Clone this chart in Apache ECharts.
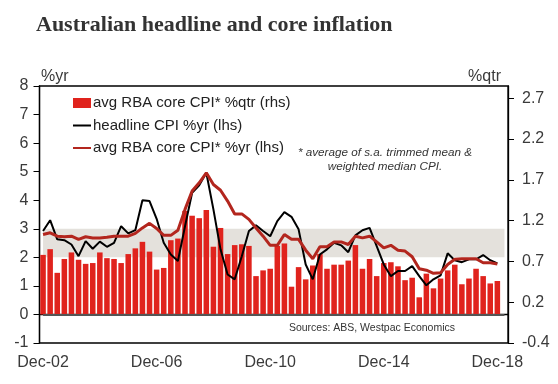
<!DOCTYPE html>
<html>
<head>
<meta charset="utf-8">
<script src="https://cdn.jsdelivr.net/npm/echarts@6/dist/echarts.min.js"></script>
<style>html,body{margin:0;padding:0;background:#fff}#c{width:558px;height:384px}</style>
</head>
<body>
<div id="c"></div>
<script>
// Quarterly categories, Dec-02 .. Dec-18 (+ one empty slot at the end of the axis)
var categories = [
 'Dec-02','Mar-03','Jun-03','Sep-03','Dec-03','Mar-04','Jun-04','Sep-04',
 'Dec-04','Mar-05','Jun-05','Sep-05','Dec-05','Mar-06','Jun-06','Sep-06',
 'Dec-06','Mar-07','Jun-07','Sep-07','Dec-07','Mar-08','Jun-08','Sep-08',
 'Dec-08','Mar-09','Jun-09','Sep-09','Dec-09','Mar-10','Jun-10','Sep-10',
 'Dec-10','Mar-11','Jun-11','Sep-11','Dec-11','Mar-12','Jun-12','Sep-12',
 'Dec-12','Mar-13','Jun-13','Sep-13','Dec-13','Mar-14','Jun-14','Sep-14',
 'Dec-14','Mar-15','Jun-15','Sep-15','Dec-15','Mar-16','Jun-16','Sep-16',
 'Dec-16','Mar-17','Jun-17','Sep-17','Dec-17','Mar-18','Jun-18','Sep-18',
 'Dec-18',' '
];
// avg RBA core CPI %qtr (rhs)
var coreQtr = [
 0.73,0.80,0.51,0.68,0.76,0.67,0.62,0.63,0.76,0.69,0.68,0.63,0.74,0.81,0.89,0.77,
 0.55,0.57,0.91,0.93,1.27,1.21,1.18,1.28,0.83,1.06,0.74,0.85,0.86,0.84,0.47,0.54,
 0.56,0.84,0.87,0.34,0.58,0.43,0.60,0.74,0.56,0.61,0.61,0.66,0.85,0.56,0.68,0.47,
 0.63,0.64,0.59,0.42,0.45,0.21,0.50,0.32,0.44,0.54,0.61,0.37,0.44,0.56,0.47,0.38,
 0.41
];
// headline CPI %yr (lhs)
var headline = [
 2.92,3.30,2.63,2.60,2.45,2.04,2.57,2.30,2.55,2.37,2.51,3.09,2.84,2.95,4.00,3.97,
 3.35,2.51,2.10,1.87,3.09,4.26,4.52,4.96,3.68,2.28,1.40,1.23,2.04,2.92,3.12,2.92,
 2.74,3.27,3.58,3.42,2.98,1.75,1.23,2.10,2.28,2.51,2.42,2.18,2.77,2.95,3.03,2.39,
 1.75,1.34,1.52,1.52,1.69,1.34,1.02,1.23,1.37,2.14,1.90,1.83,1.93,1.93,2.08,1.90,
 1.79
];
// avg RBA core CPI %yr (lhs)
var coreYr = [
 2.80,2.86,2.74,2.72,2.74,2.63,2.72,2.68,2.68,2.70,2.74,2.74,2.74,2.84,3.03,3.19,
 3.01,2.77,2.77,2.95,3.68,4.32,4.61,4.96,4.55,4.35,3.97,3.52,3.52,3.33,3.03,2.74,
 2.42,2.42,2.80,2.63,2.63,2.25,1.95,2.37,2.37,2.54,2.54,2.45,2.74,2.68,2.74,2.54,
 2.33,2.42,2.25,2.22,2.02,1.60,1.55,1.44,1.46,1.75,1.93,1.95,1.95,1.95,1.81,1.81,
 1.77
];
var leftTicks = ['-1','0','1','2','3','4','5','6','7','8'];
var rightTicks = ['-0.4','0.2','0.7','1.2','1.7','2.2','2.7'];
var band = [2, 3];

var chart = echarts.init(document.getElementById('c'), null, {renderer: 'canvas'});
var axisFont = {fontFamily: 'Liberation Sans, Arial', fontSize: 16, color: '#3a3a3a'};
var lastIdx = categories.length - 1;

chart.setOption({
  animation: false,
  backgroundColor: '#fff',
  grid: {left: 39.5, right: 50, top: 86, bottom: 41, show: true, borderColor: '#000', borderWidth: 1.3, containLabel: false},
  legend: {
    orient: 'vertical', left: 67, top: 89, itemWidth: 18, itemHeight: 10, itemGap: 4.5,
    selectedMode: false,
    textStyle: {fontFamily: 'Liberation Sans, Arial', fontSize: 15, color: '#222', lineHeight: 18, padding: [0,0,0,-3]},
    data: [
      {name: 'avg RBA core CPI* %qtr (rhs)', icon: 'rect'},
      {name: 'headline CPI %yr (lhs)', itemStyle: {opacity: 0}},
      {name: 'avg RBA core CPI* %yr (lhs)', itemStyle: {opacity: 0}}
    ]
  },
  graphic: [
    {type: 'text', left: 36, top: 14, style: {text: 'Australian headline and core inflation', font: 'bold 22px "Liberation Serif", "Times New Roman", serif', fill: '#333'}},
    {type: 'text', left: 41, top: 69, style: {text: '%yr', font: '16px "Liberation Sans", Arial', fill: '#3a3a3a'}},
    {type: 'text', right: 57, top: 69, style: {text: '%qtr', font: '16px "Liberation Sans", Arial', fill: '#3a3a3a'}},
    {type: 'text', x: 385, y: 153, style: {text: '* average of s.a. trimmed mean &', font: 'italic 11.7px "Liberation Sans", Arial', fill: '#333', align: 'center', verticalAlign: 'middle'}},
    {type: 'text', x: 385, y: 167, style: {text: 'weighted median CPI.', font: 'italic 11.7px "Liberation Sans", Arial', fill: '#333', align: 'center', verticalAlign: 'middle'}},
    {type: 'text', x: 455, y: 328, style: {text: 'Sources: ABS, Westpac Economics', font: '10.5px "Liberation Sans", Arial', fill: '#333', align: 'right', verticalAlign: 'middle'}}
  ],
  xAxis: {
    type: 'category', data: categories, boundaryGap: true,
    axisLine: {lineStyle: {color: '#000', width: 1.3}},
    axisTick: {interval: 15, length: 5, lineStyle: {color: '#000', width: 1}},
    axisLabel: Object.assign({interval: 15, margin: 12}, axisFont),
    splitLine: {show: false}
  },
  yAxis: [
    {type: 'value', min: -1, max: 8, interval: 1, position: 'left',
     axisLine: {show: true, lineStyle: {color: '#000', width: 1.3}},
     axisTick: {show: true, length: 6, lineStyle: {color: '#000'}},
     axisLabel: Object.assign({margin: 11, formatter: function (v) { var i = Math.round(v + 1); return leftTicks[i] || ''; }}, axisFont),
     splitLine: {show: false}},
    {type: 'value', min: -0.35, max: 2.8, interval: 0.5, position: 'right',
     axisLine: {show: true, lineStyle: {color: '#000', width: 1.3}},
     axisTick: {show: true, length: 6, lineStyle: {color: '#000'}},
     axisLabel: Object.assign({margin: 14, showMaxLabel: false, formatter: function (v) {
        var k = (v + 0.35) / 0.5; var i = Math.round(k);
        if (Math.abs(k - i) > 0.01) return '';
        return rightTicks[i] || '';
     }}, axisFont),
     splitLine: {show: false}}
  ],
  series: [
    {type: 'line', name: 'band', data: [], z: 1, silent: true,
     markArea: {silent: true, itemStyle: {color: '#e4e1dc'}, data: [[{coord: [0, band[1]]}, {coord: [lastIdx, band[0]]}]]}},
    {type: 'bar', name: 'avg RBA core CPI* %qtr (rhs)', yAxisIndex: 1, data: coreQtr, z: 2,
     barCategoryGap: '22%', itemStyle: {color: '#e0231d'}},
    {type: 'line', name: 'zero', data: [], z: 3, silent: true,
     markLine: {silent: true, symbol: 'none', label: {show: false}, lineStyle: {color: '#555', width: 2, type: 'solid'},
       data: [[{coord: [0, 0]}, {coord: [lastIdx, 0]}]]}},
    {type: 'line', name: 'headline CPI %yr (lhs)', yAxisIndex: 0, data: headline, z: 4,
     symbol: 'none', showSymbol: false, lineStyle: {color: '#000', width: 2}, itemStyle: {color: '#000'}},
    {type: 'line', name: 'avg RBA core CPI* %yr (lhs)', yAxisIndex: 0, data: coreYr, z: 5,
     symbol: 'none', showSymbol: false, lineStyle: {color: '#b3261e', width: 3}, itemStyle: {color: '#b3261e'}}
  ]
});
</script>
</body>
</html>
